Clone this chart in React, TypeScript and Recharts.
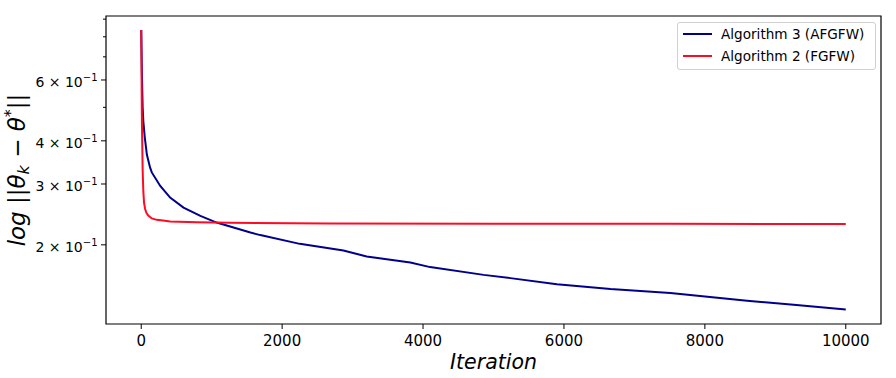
import React from "react"
import { LineChart, Line, XAxis, YAxis, ReferenceArea } from "recharts"

// Algorithm 3 (AFGFW)
const algo3Iters = [0, 10, 20, 30, 50, 80, 125, 150, 270, 410, 600, 840, 1070, 1310, 1550, 1690, 2250, 2870, 3200, 3820, 4100, 4860, 5240, 5900, 6660, 7510, 8600, 9260, 10000]
const algo3Values = [0.837, 0.62, 0.5, 0.455, 0.41, 0.365, 0.335, 0.324, 0.296, 0.274, 0.2564, 0.2426, 0.232, 0.2244, 0.2171, 0.2134, 0.2013, 0.1926, 0.185, 0.1778, 0.1724, 0.1637, 0.1602, 0.1539, 0.1489, 0.145, 0.1377, 0.1341, 0.13]

// Algorithm 2 (FGFW)
const algo2Iters = [0, 5, 10, 20, 30, 40, 55, 75, 100, 150, 220, 310, 410, 790, 1260, 2680, 5000, 7500, 10000]
const algo2Values = [0.837, 0.6, 0.45, 0.33, 0.285, 0.265, 0.254, 0.247, 0.243, 0.2385, 0.2362, 0.2352, 0.2338, 0.2325, 0.2316, 0.2306, 0.2302, 0.23, 0.2298]

const xTicks = [0, 2000, 4000, 6000, 8000, 10000]
const yTicks = [0.2, 0.3, 0.4, 0.5, 0.6, 0.7, 0.8, 0.9]
const yLabelled = [0.2, 0.3, 0.4, 0.6]

const seriesNames = ["Algorithm 3 (AFGFW)", "Algorithm 2 (FGFW)"]
const seriesColors = ["#00008b", "#ff0a23"]

const FONT = "'DejaVu Sans', sans-serif"

const algo3Data = algo3Iters.map((it, i) => ({ it, v: algo3Values[i] }))
const algo2Data = algo2Iters.map((it, i) => ({ it, v: algo2Values[i] }))

function XTick(props: any) {
  const { x, y, payload } = props
  return (
    <g>
      <line x1={x} x2={x} y1={y} y2={y + 5} stroke="#000" strokeWidth={1} />
      <text x={x} y={y + 22} textAnchor="middle" fontSize={15} fontFamily={FONT} fill="#000">
        {payload.value}
      </text>
    </g>
  )
}

function YTick(props: any) {
  const { x, y, payload } = props
  const v = payload.value
  const major = yLabelled.some((m) => Math.abs(m - v) < 1e-9)
  if (!major) {
    return <line x1={x - 3} x2={x} y1={y} y2={y} stroke="#000" strokeWidth={1} />
  }
  const mant = Math.round(v * 10)
  return (
    <g>
      <line x1={x - 5} x2={x} y1={y} y2={y} stroke="#000" strokeWidth={1} />
      <text x={x - 8.5} y={y + 7.5} textAnchor="end" fontSize={14} fontFamily={FONT} fill="#000">
        <tspan>{`${mant} × 10`}</tspan>
        <tspan dy={-6.5} fontSize={10}>−1</tspan>
      </text>
    </g>
  )
}

function YLabel(props: any) {
  const vb = props.viewBox || {}
  const cy = (vb.y ?? 16) + (vb.height ?? 308) / 2
  const cx = 25
  return (
    <text
      x={cx}
      y={cy}
      transform={`rotate(-90, ${cx}, ${cy})`}
      textAnchor="middle"
      fontSize={23}
      fontStyle="italic"
      fontFamily={FONT}
      fill="#000"
    >
      <tspan>log ||θ</tspan>
      <tspan dy={4} fontSize={16}>k</tspan>
      <tspan dy={-4}> − θ</tspan>
      <tspan dy={-9} fontSize={16}>*</tspan>
      <tspan dy={9}>||</tspan>
    </text>
  )
}

function XLabel(props: any) {
  const vb = props.viewBox || {}
  const cx = (vb.x ?? 106) + (vb.width ?? 775) / 2
  return (
    <text x={cx} y={369} textAnchor="middle" fontSize={20.5} fontStyle="italic" fontFamily={FONT} fill="#000">
      Iteration
    </text>
  )
}

export default function App() {
  return (
    <div style={{ position: "absolute", left: 0, top: 0, width: 896, height: 378, background: "#fff" }}>
      <LineChart width={896} height={378} margin={{ top: 16, right: 15, bottom: 24, left: 46 }}>
        <XAxis
          type="number"
          dataKey="it"
          domain={[-500, 10500]}
          ticks={xTicks}
          interval={0}
          allowDataOverflow
          tick={<XTick />}
          tickLine={false}
          axisLine={false}
          tickSize={0}
          tickMargin={0}
          height={30}
          label={<XLabel />}
        />
        <YAxis
          type="number"
          scale="log"
          domain={[0.118, 0.919]}
          ticks={yTicks}
          interval={0}
          allowDataOverflow
          tick={<YTick />}
          tickLine={false}
          axisLine={false}
          tickSize={0}
          tickMargin={0}
          width={60}
          label={<YLabel />}
        />
        <ReferenceArea
          x1={-500}
          x2={10500}
          y1={0.118}
          y2={0.919}
          fill="none"
          stroke="#000"
          strokeOpacity={1}
          strokeWidth={1.2}
          ifOverflow="visible"
        />
        <Line
          data={algo3Data}
          dataKey="v"
          type="linear"
          stroke={seriesColors[0]}
          strokeWidth={2}
          dot={false}
          isAnimationActive={false}
        />
        <Line
          data={algo2Data}
          dataKey="v"
          type="linear"
          stroke={seriesColors[1]}
          strokeWidth={2}
          dot={false}
          isAnimationActive={false}
        />
      </LineChart>
      <div
        style={{
          position: "absolute",
          left: 677,
          top: 22,
          width: 197,
          height: 46,
          border: "1px solid #d0d0d0",
          borderRadius: 3,
          background: "rgba(255,255,255,0.8)",
          fontFamily: FONT,
          fontSize: 13.6,
          color: "#000",
        }}
      >
        {seriesNames.map((name, i) => (
          <div key={name} style={{ position: "absolute", left: 0, top: 2 + i * 21.7, height: 20, width: "100%" }}>
            <div style={{ position: "absolute", left: 5, top: 8.3, width: 29, height: 2, background: seriesColors[i] }} />
            <span style={{ position: "absolute", left: 43, top: 1, whiteSpace: "nowrap" }}>{name}</span>
          </div>
        ))}
      </div>
    </div>
  )
}
